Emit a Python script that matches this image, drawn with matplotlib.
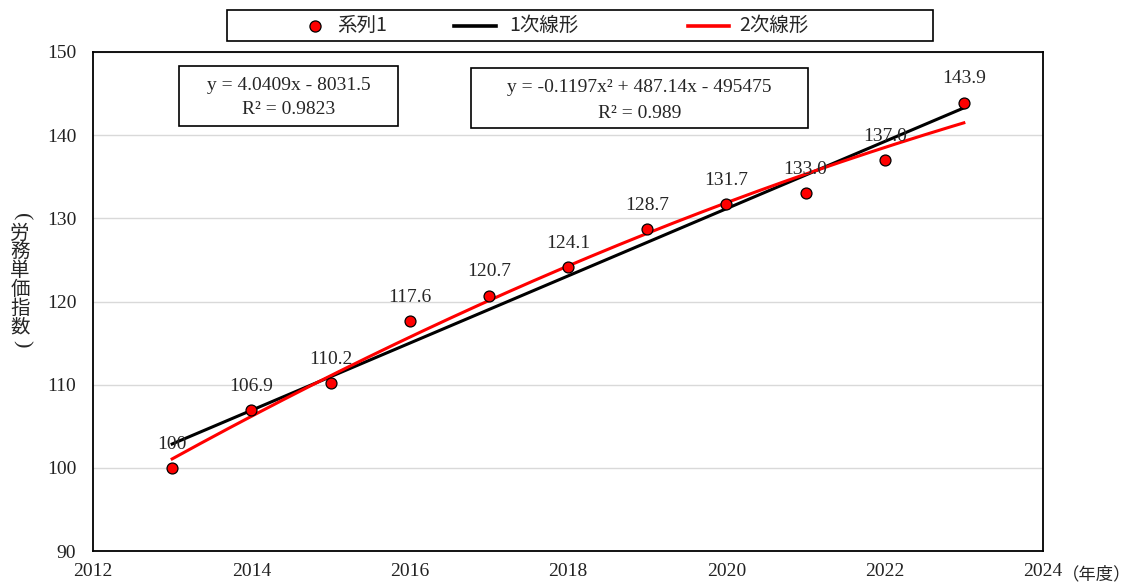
import numpy as np
import matplotlib
matplotlib.use("Agg")
import matplotlib.pyplot as plt
from matplotlib.lines import Line2D
from matplotlib.patches import Rectangle

plt.rcParams['font.family'] = ['Liberation Serif', 'Noto Sans CJK JP', 'DejaVu Sans']

# 労務単価指数 (2013年度 = 100)
years = [2013, 2014, 2015, 2016, 2017, 2018, 2019, 2020, 2021, 2022, 2023]
index_values = [100, 106.9, 110.2, 117.6, 120.7, 124.1, 128.7, 131.7, 133.0, 137.0, 143.9]
value_labels = ["100", "106.9", "110.2", "117.6", "120.7", "124.1",
                "128.7", "131.7", "133.0", "137.0", "143.9"]
x_ticks = [2012, 2014, 2016, 2018, 2020, 2022, 2024]
y_ticks = [90, 100, 110, 120, 130, 140, 150]
eq_linear = ["y = 4.0409x - 8031.5", "R² = 0.9823"]
eq_quad = ["y = -0.1197x² + 487.14x - 495475", "R² = 0.989"]
legend_labels = ["系列1", "1次線形", "2次線形"]
y_title = "労務単価指数"

W, H = 1132, 587


def fx(px):
    return px / W


def fy(py):
    return 1 - py / H


x = np.array(years, dtype=float)
y = np.array(index_values, dtype=float)

# trend lines fitted to the series
lin = np.polynomial.Polynomial.fit(x, y, 1)
quad = np.polynomial.Polynomial.fit(x, y, 2)
xs = np.linspace(x.min(), x.max(), 200)

fig = plt.figure(figsize=(W / 100, H / 100), dpi=100)
ax = fig.add_axes([fx(93), fy(551), fx(1043) - fx(93), fy(52) - fy(551)])

ax.set_xlim(2012, 2024)
ax.set_ylim(90, 150)
ax.set_xticks(x_ticks)
ax.set_yticks(y_ticks)
ax.yaxis.grid(True, color='#d9d9d9', linewidth=1.0)
ax.set_axisbelow(True)
for s in ax.spines.values():
    s.set_color('black')
    s.set_linewidth(1.3)
ax.tick_params(axis='both', length=0, labelsize=14, colors='#222222')
ax.tick_params(axis='y', pad=12)
ax.tick_params(axis='x', pad=9)
ax.set_xticklabels([str(t) for t in x_ticks])

ax.plot(xs, lin(xs), color='black', linewidth=2.2, zorder=3)
ax.plot(xs, quad(xs), color='#ff0000', linewidth=2.2, zorder=4)
ax.scatter(x, y, s=62, color='#ff0000', edgecolor='black', linewidth=0.9, zorder=5)

for xi, yi, lab in zip(x, y, value_labels):
    ax.annotate(lab, (xi, yi), xytext=(0, 11), textcoords='offset points',
                ha='center', va='bottom', fontsize=14, color='#262626', zorder=6)

# equation boxes
for (x0, y0, x1, y1), lines, ys in [((179, 66, 398, 126), eq_linear, (85, 110)),
                                     ((471, 68, 808, 128), eq_quad, (87, 113))]:
    fig.patches.append(Rectangle((fx(x0), fy(y1)), fx(x1) - fx(x0), fy(y0) - fy(y1),
                                 transform=fig.transFigure, facecolor='white',
                                 edgecolor='black', linewidth=1.2, zorder=7))
    cx = fx((x0 + x1) / 2)
    for t, ty in zip(lines, ys):
        fig.text(cx, fy(ty), t, ha='center', va='center', fontsize=14,
                 color='#262626', zorder=8)

# vertical axis title with sideways brackets
fig.text(fx(20), fy(280), "\n".join(y_title), ha='center', va='center',
         fontsize=14, family=['Noto Sans CJK JP'], linespacing=0.86, color='#262626')
fig.text(fx(21), fy(217), "(", ha='center', va='center', rotation=-90,
         rotation_mode='anchor', fontsize=16, family=['Liberation Serif'], color='#262626')
fig.text(fx(21), fy(344), ")", ha='center', va='center', rotation=-90,
         rotation_mode='anchor', fontsize=16, family=['Liberation Serif'], color='#262626')

fig.text(fx(1062), fy(574), "（年度）", ha='left', va='center', fontsize=12.5,
         family=['Noto Sans CJK JP'], color='#262626')

# legend
fig.patches.append(Rectangle((fx(227), fy(41)), fx(933) - fx(227), fy(10) - fy(41),
                             transform=fig.transFigure, facecolor='white',
                             edgecolor='black', linewidth=1.2))
ly = fy(25.5)
fig.lines.append(Line2D([fx(315)], [ly], transform=fig.transFigure, linestyle='none',
                        marker='o', markersize=8, markerfacecolor='#ff0000',
                        markeredgecolor='black', markeredgewidth=0.9))
fig.lines.append(Line2D([fx(454), fx(496)], [ly, ly], transform=fig.transFigure,
                        color='black', linewidth=2.6))
fig.lines.append(Line2D([fx(688), fx(729)], [ly, ly], transform=fig.transFigure,
                        color='#ff0000', linewidth=2.6))
for lx, lab in zip([337, 509, 739], legend_labels):
    fig.text(fx(lx), ly, lab, ha='left', va='center', fontsize=14,
             family=['Noto Sans CJK JP', 'Liberation Serif'], color='#262626')

fig.savefig("out.png", dpi=100)
